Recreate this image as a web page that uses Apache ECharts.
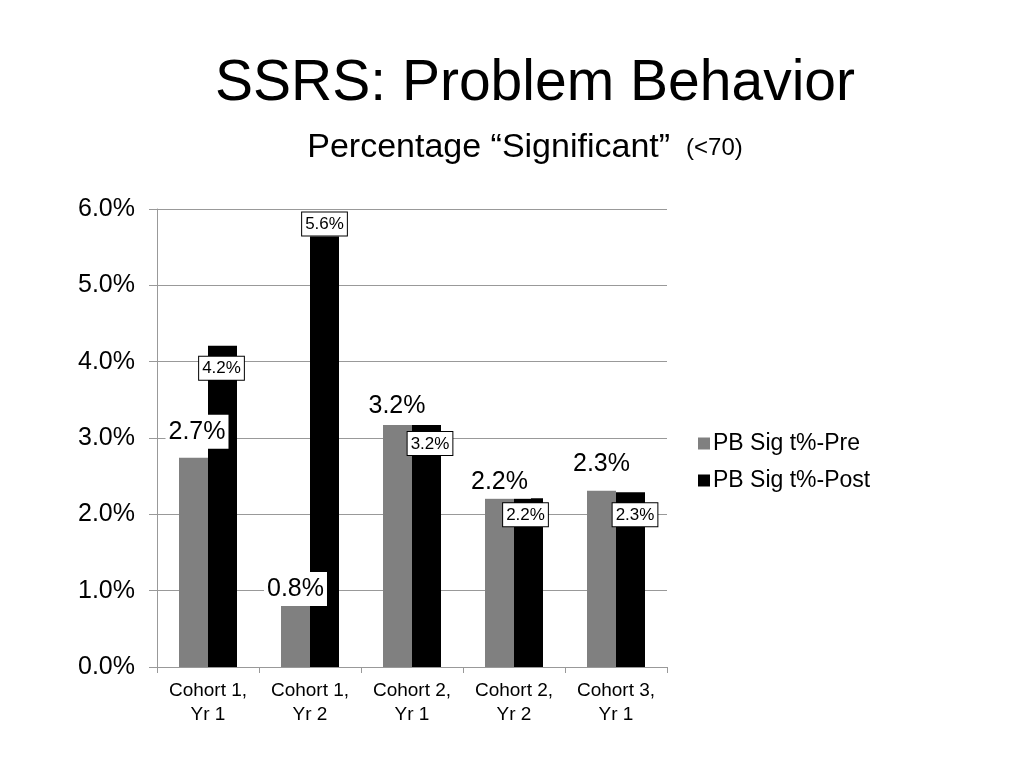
<!DOCTYPE html>
<html><head><meta charset="utf-8">
<script src="https://cdn.jsdelivr.net/npm/echarts@6/dist/echarts.min.js"></script>
<style>html,body{margin:0;padding:0;background:#fff}#c{width:1024px;height:768px}</style>
</head><body><div id="c"></div>
<script>
const titleText = 'SSRS: Problem Behavior';
const subtitleMain = 'Percentage \u201cSignificant\u201d';
const subtitleSmall = '(<70)';
const categories = ['Cohort 1,\nYr 1', 'Cohort 1,\nYr 2', 'Cohort 2,\nYr 1', 'Cohort 2,\nYr 2', 'Cohort 3,\nYr 1'];
const seriesNames = ['PB Sig t%-Pre', 'PB Sig t%-Post'];
const preValues = [2.74, 0.80, 3.17, 2.21, 2.31];
const postValues = [4.21, 5.64, 3.17, 2.21, 2.29];
const yTicks = [0, 1, 2, 3, 4, 5, 6];

// label placement styles (offsets only)
const preLabelOffsets = [[3.5, -4], [0, 5], [-0.5, 3.5], [0, 5.5], [0, -4.5]];
const postLabelPlace = [
  { position: 'insideTop', distance: 5, offset: [-1, 6] },
  { position: 'top', distance: 1, offset: [0, 0] },
  { position: 'insideTop', distance: 5, offset: [3.5, 2] },
  { position: 'insideTop', distance: 5, offset: [-3, 0] },
  { position: 'insideTop', distance: 5, offset: [4.5, 6] }
];

const FONT = '"Liberation Sans", Arial, Helvetica, sans-serif';
const fmt = v => v.toFixed(1) + '%';

const chart = echarts.init(document.getElementById('c'));
chart.setOption({
  animation: false,
  backgroundColor: '#fff',
  textStyle: { fontFamily: FONT, color: '#000' },
  graphic: [
    { type: 'text', x: 535, y: 84, style: { text: titleText, font: '57px ' + FONT, fill: '#000', textAlign: 'center', textVerticalAlign: 'middle' } },
    { type: 'text', x: 525, y: 148, style: {
        text: '{a|' + subtitleMain + '}{b|' + subtitleSmall + '}',
        rich: { a: { fontSize: 34, fontFamily: FONT, fill: '#000' }, b: { fontSize: 24, fontFamily: FONT, fill: '#000', padding: [0, 0, 0, 16] } },
        textAlign: 'center', textVerticalAlign: 'middle' } }
  ],
  grid: { left: 157, right: 357, top: 209, bottom: 101, containLabel: false },
  legend: {
    orient: 'vertical', left: 693, top: 427, itemWidth: 12, itemHeight: 12, itemGap: 14,
    icon: 'rect',
    textStyle: { fontSize: 23, fontFamily: FONT, color: '#000', padding: [0, 0, 0, -2] },
    data: seriesNames
  },
  xAxis: {
    type: 'category', data: categories,
    axisLine: { lineStyle: { color: '#999', width: 1 } },
    axisTick: { show: true, length: 6, lineStyle: { color: '#999' }, alignWithLabel: false },
    axisLabel: { fontSize: 19, lineHeight: 24, color: '#000', margin: 12, fontFamily: FONT, interval: 0 }
  },
  yAxis: {
    type: 'value', min: yTicks[0], max: yTicks[yTicks.length - 1], interval: 1,
    axisLine: { show: true, lineStyle: { color: '#999', width: 1 } },
    axisTick: { show: true, length: 8, lineStyle: { color: '#999' } },
    axisLabel: { fontSize: 25, color: '#000', margin: 22, fontFamily: FONT, formatter: v => fmt(v) },
    splitLine: { lineStyle: { color: '#999', width: 1 } }
  },
  series: [
    {
      name: seriesNames[0], type: 'bar', barWidth: 29, barGap: '0%',
      itemStyle: { color: '#808080' },
      data: preValues.map((v, i) => ({
        value: v,
        label: { show: true, position: 'top', distance: 5, offset: preLabelOffsets[i] }
      })),
      label: {
        show: true, formatter: p => fmt(p.value), fontSize: 25, lineHeight: 26, color: '#000', fontFamily: FONT,
        backgroundColor: '#fff', padding: [4, 3, 4, 3]
      },
      z: 2
    },
    {
      name: seriesNames[1], type: 'bar', barWidth: 29,
      itemStyle: { color: '#000' },
      data: postValues.map((v, i) => ({
        value: v,
        label: { show: true, position: postLabelPlace[i].position, distance: postLabelPlace[i].distance, offset: postLabelPlace[i].offset }
      })),
      label: {
        show: true, formatter: p => fmt(p.value), fontSize: 17, lineHeight: 18, color: '#000', fontFamily: FONT,
        backgroundColor: '#fff', borderColor: '#000', borderWidth: 1, padding: [3, 3, 2, 3]
      },
      z: 2
    }
  ]
});
</script>
</body></html>
